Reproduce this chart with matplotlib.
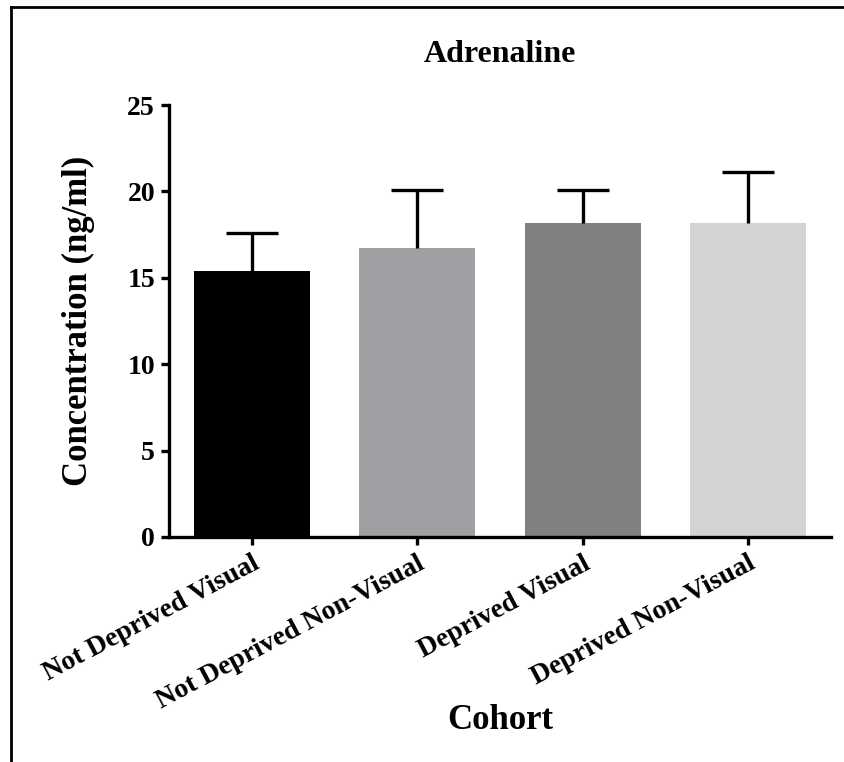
import matplotlib
matplotlib.use('Agg')
import matplotlib.pyplot as plt
from matplotlib.lines import Line2D

# data
cohorts = ['Not Deprived Visual', 'Not Deprived Non-Visual', 'Deprived Visual', 'Deprived Non-Visual']
means = [15.4, 16.7, 18.2, 18.2]
errors = [2.2, 3.4, 1.9, 2.9]
colors = ['#000000', '#a0a0a4', '#808080', '#d3d3d3']

plt.rcParams['font.family'] = ['Liberation Serif', 'DejaVu Serif']
plt.rcParams['font.weight'] = 'bold'

fig = plt.figure(figsize=(8.44, 7.62), dpi=100)
ax = fig.add_axes([0.2002, 0.2953, 0.7844, 0.5669])

x = list(range(len(cohorts)))
ax.bar(x, means, width=0.7, color=colors, zorder=2)
eb = ax.errorbar(x, means, yerr=[[0] * len(errors), errors], fmt='none', ecolor='black',
                 elinewidth=2.4, capsize=19, capthick=2.4, zorder=3)
# only the upper cap is shown
eb[1][0].set_visible(False)

ax.set_xlim(-0.5, 3.5)
ax.set_ylim(0, 25)
ax.set_yticks([0, 5, 10, 15, 20, 25])
ax.set_xticks(x)
ax.set_xticklabels(cohorts, rotation=28, ha='right', rotation_mode='anchor',
                   fontsize=20, fontweight='bold')
for lab in ax.get_yticklabels():
    lab.set_fontsize(20)

for s in ['top', 'right']:
    ax.spines[s].set_visible(False)
for s in ['left', 'bottom']:
    ax.spines[s].set_linewidth(2.4)
ax.tick_params(axis='both', direction='out', length=6, width=2.4, pad=4)

fig.text(0.5924, 0.928, 'Adrenaline', fontsize=23, fontweight='bold', ha='center', va='center')
fig.text(0.0924, 0.5787, 'Concentration (ng/ml)', fontsize=25, fontweight='bold',
         rotation=90, ha='center', va='center')
fig.text(0.5924, 0.055, 'Cohort', fontsize=25, fontweight='bold', ha='center', va='center')

# outer frame (left and top only)
fig.add_artist(Line2D([0.013, 0.013], [0, 0.991], transform=fig.transFigure, color='black', lw=2))
fig.add_artist(Line2D([0.013, 1], [0.991, 0.991], transform=fig.transFigure, color='black', lw=2))

fig.savefig('out.png', dpi=100)
